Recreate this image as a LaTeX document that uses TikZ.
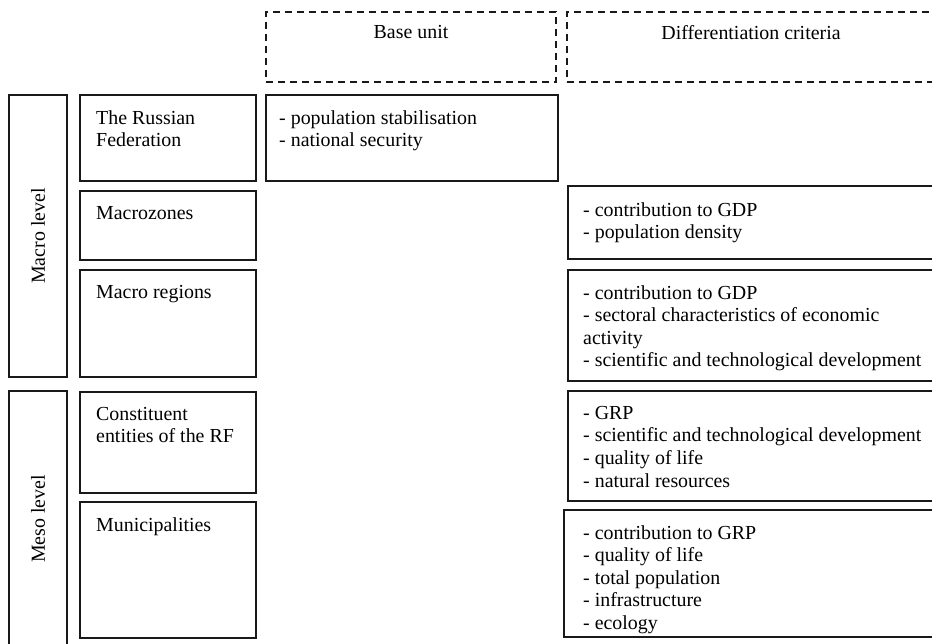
\documentclass[tikz,border=0pt]{standalone}
\usepackage{fontspec}
\setmainfont{Liberation Serif}
\usepackage{graphicx}
\usetikzlibrary{positioning}

\begin{document}
\begin{tikzpicture}[
        x=1pt, y=-1pt,
        node distance=10pt,
        font=\fontsize{19.9}{22.6}\selectfont,
        frame/.style={
            rectangle,
            draw=black!90,
            line width=2pt,
            inner sep=0pt,
            outer sep=0pt,
            anchor=north west
        },
        level/.style={
            frame,
            minimum width=58pt
        },
        cell/.style={
            frame,
            minimum width=176pt
        },
        crit/.style={
            frame,
            minimum width=370pt
        },
        head/.style={
            frame,
            dash pattern=on 7pt off 5pt,
            line width=2.2pt,
            minimum height=70pt
        },
        celltext/.style={
            anchor=north west,
            inner sep=0pt,
            align=left,
            xshift=16pt,
            yshift=-15pt
        },
        headtext/.style={
            anchor=north,
            inner sep=0pt,
            yshift=-13pt
        }
    ]

    \path[use as bounding box, clip] (0,0) rectangle (932,644);

    % column headers
    \node (base) [head, minimum width=290pt,
        label={[headtext]north:Base unit}] at (266,12) {};
    \node (diff) [head, minimum width=368pt,
        label={[headtext]north:Differentiation criteria}] at (567,12) {};

    % levels
    \node (macro) [level, minimum height=282pt] at (9,95) {\rotatebox{90}{Macro level}};
    \node (meso) [level, minimum height=256pt] at (9,391) {\rotatebox{90}{Meso level}};

    % territorial units
    \node (rf) [cell, minimum height=86pt,
        label={[celltext]north west:The Russian\\Federation}] at (80,95) {};
    \node (zones) [cell, minimum height=69pt, below=of rf.south west, anchor=north west,
        label={[celltext]north west:Macrozones}] {};
    \node (regions) [cell, minimum height=107pt, below=of zones.south west, anchor=north west,
        label={[celltext]north west:Macro regions}] {};
    \node (subjects) [cell, minimum height=101pt, below=15pt of regions.south west, anchor=north west,
        label={[celltext]north west:Constituent\\entities of the RF}] {};
    \node (munic) [cell, minimum height=136pt, below=9pt of subjects.south west, anchor=north west,
        label={[celltext]north west:Municipalities}] {};

    % base unit
    \node (pop) [frame, minimum width=292pt, minimum height=86pt,
        label={[celltext, xshift=-3pt]north west:- population stabilisation\\- national security}] at (266,95) {};

    % criteria
    \node (critzones) [crit, minimum height=73pt,
        label={[celltext, xshift=-1pt, yshift=-1pt]north west:- contribution to GDP\\- population density}] at (568,186) {};
    \node (critregions) [crit, minimum height=111pt,
        label={[celltext, xshift=-1pt]north west:- contribution to GDP\\- sectoral characteristics of economic\\activity\\- scientific and technological development}] at (568,270) {};
    \node (critsubjects) [crit, minimum height=110pt,
        label={[celltext, xshift=-1pt]north west:- GRP\\- scientific and technological development\\- quality of life\\- natural resources}] at (568,391) {};
    \node (critmunic) [crit, minimum width=374pt, minimum height=127pt,
        label={[celltext, xshift=3pt]north west:- contribution to GRP\\- quality of life\\- total population\\- infrastructure\\- ecology}] at (564,510) {};

\end{tikzpicture}
\end{document}
